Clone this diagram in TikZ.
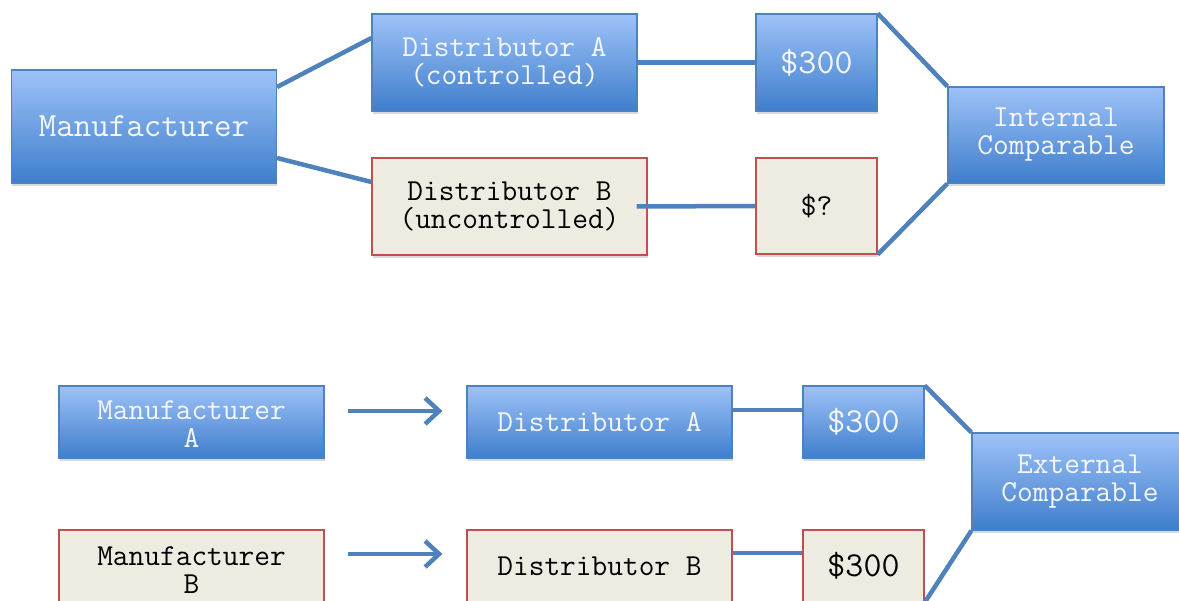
\documentclass[tikz,border=0pt]{standalone}
\usepackage{fontspec}
\usetikzlibrary{shadows,arrows.meta}
\definecolor{btop}{RGB}{158,194,248}
\definecolor{bbot}{RGB}{62,126,204}
\definecolor{bdraw}{RGB}{79,129,189}
\definecolor{beige}{RGB}{238,236,225}
\definecolor{rdraw}{RGB}{192,80,77}
\definecolor{conn}{RGB}{79,129,189}
\definecolor{ltext}{RGB}{245,247,252}
\tikzset{
  box/.style={rectangle, inner sep=0pt, align=center, line width=1.2pt,
    drop shadow={opacity=0.3, shadow xshift=0.5pt, shadow yshift=-3pt}},
  bluebox/.style={box, draw=bdraw, top color=btop, bottom color=bbot, text=ltext},
  beigebox/.style={box, draw=rdraw, fill=beige, text=black},
  txt/.style={font=\ttfamily\fontsize{30.5}{28}\selectfont},
  bigtxt/.style={font=\ttfamily\fontsize{34}{34}\selectfont},
  pricetxt/.style={font=\ttfamily\fontsize{35}{35}\selectfont},
  link/.style={draw=conn, line width=4.5pt},
  arr/.style={link, -{Straight Barb[length=14pt, width=26pt, line width=4.5pt]}}
}
\begin{document}
\begin{tikzpicture}[x=1pt, y=-1pt]
\useasboundingbox (0,0) rectangle (1179,601);
% top half
\node[bluebox, bigtxt, minimum width=265pt, minimum height=113pt] (mfr) at (144,126.5) {Manufacturer};
\node[bluebox, txt, minimum width=265pt, minimum height=97pt] (da) at (504.5,62.5) {Distributor A\\(controlled)};
\node[beigebox, txt, minimum width=275pt, minimum height=97pt] (db) at (509.5,206.5) {Distributor B\\(uncontrolled)};
\node[bluebox, pricetxt, minimum width=121pt, minimum height=97pt] (p1) at (816.5,62.5) {\$300};
\node[beigebox, txt, minimum width=121pt, minimum height=96pt] (pq) at (816.5,206) {\$?};
\node[bluebox, txt, minimum width=216pt, minimum height=96pt] (ic) at (1056,135) {Internal\\Comparable};
\draw[link] ([yshift=39.5pt]mfr.east) -- ([yshift=24.5pt]da.west);
\draw[link] ([yshift=-31.5pt]mfr.east) -- ([yshift=24.5pt]db.west);
\draw[link] (da.east) -- (p1.west);
\draw[link] ([xshift=-11pt]db.east) -- (pq.west);
\draw[link] (p1.north east) -- (ic.north west);
\draw[link] (pq.south east) -- (ic.south west);
% bottom half
\node[bluebox, txt, minimum width=265pt, minimum height=72pt, text height=58pt, text depth=6pt] (ma) at (191.5,422) {Manufacturer\\A};
\node[beigebox, txt, minimum width=265pt, minimum height=72pt, text height=60pt, text depth=6pt] (mb) at (191.5,566) {Manufacturer\\B};
\node[bluebox, txt, minimum width=265pt, minimum height=72pt] (da2) at (599.5,422) {Distributor A};
\node[beigebox, txt, minimum width=265pt, minimum height=72pt] (db2) at (599.5,566) {Distributor B};
\node[bluebox, pricetxt, minimum width=121pt, minimum height=72pt] (p2) at (863.5,422) {\$300};
\node[beigebox, pricetxt, minimum width=121pt, minimum height=72pt] (p3) at (863.5,566) {\$300};
\node[bluebox, txt, minimum width=216pt, minimum height=97pt] (ec) at (1080,481.5) {External\\Comparable};
\draw[arr] ([xshift=23pt,yshift=11pt]ma.east) -- ([xshift=-24pt,yshift=11pt]da2.west);
\draw[arr] ([xshift=23pt,yshift=12pt]mb.east) -- ([xshift=-24pt,yshift=12pt]db2.west);
\draw[link] ([yshift=12pt]da2.east) -- ([yshift=12pt]p2.west);
\draw[link] ([yshift=13pt]db2.east) -- ([yshift=13pt]p3.west);
\draw[link] (p2.north east) -- (ec.north west);
\draw[link] (p3.south east) -- (ec.south west);
\end{tikzpicture}
\end{document}
